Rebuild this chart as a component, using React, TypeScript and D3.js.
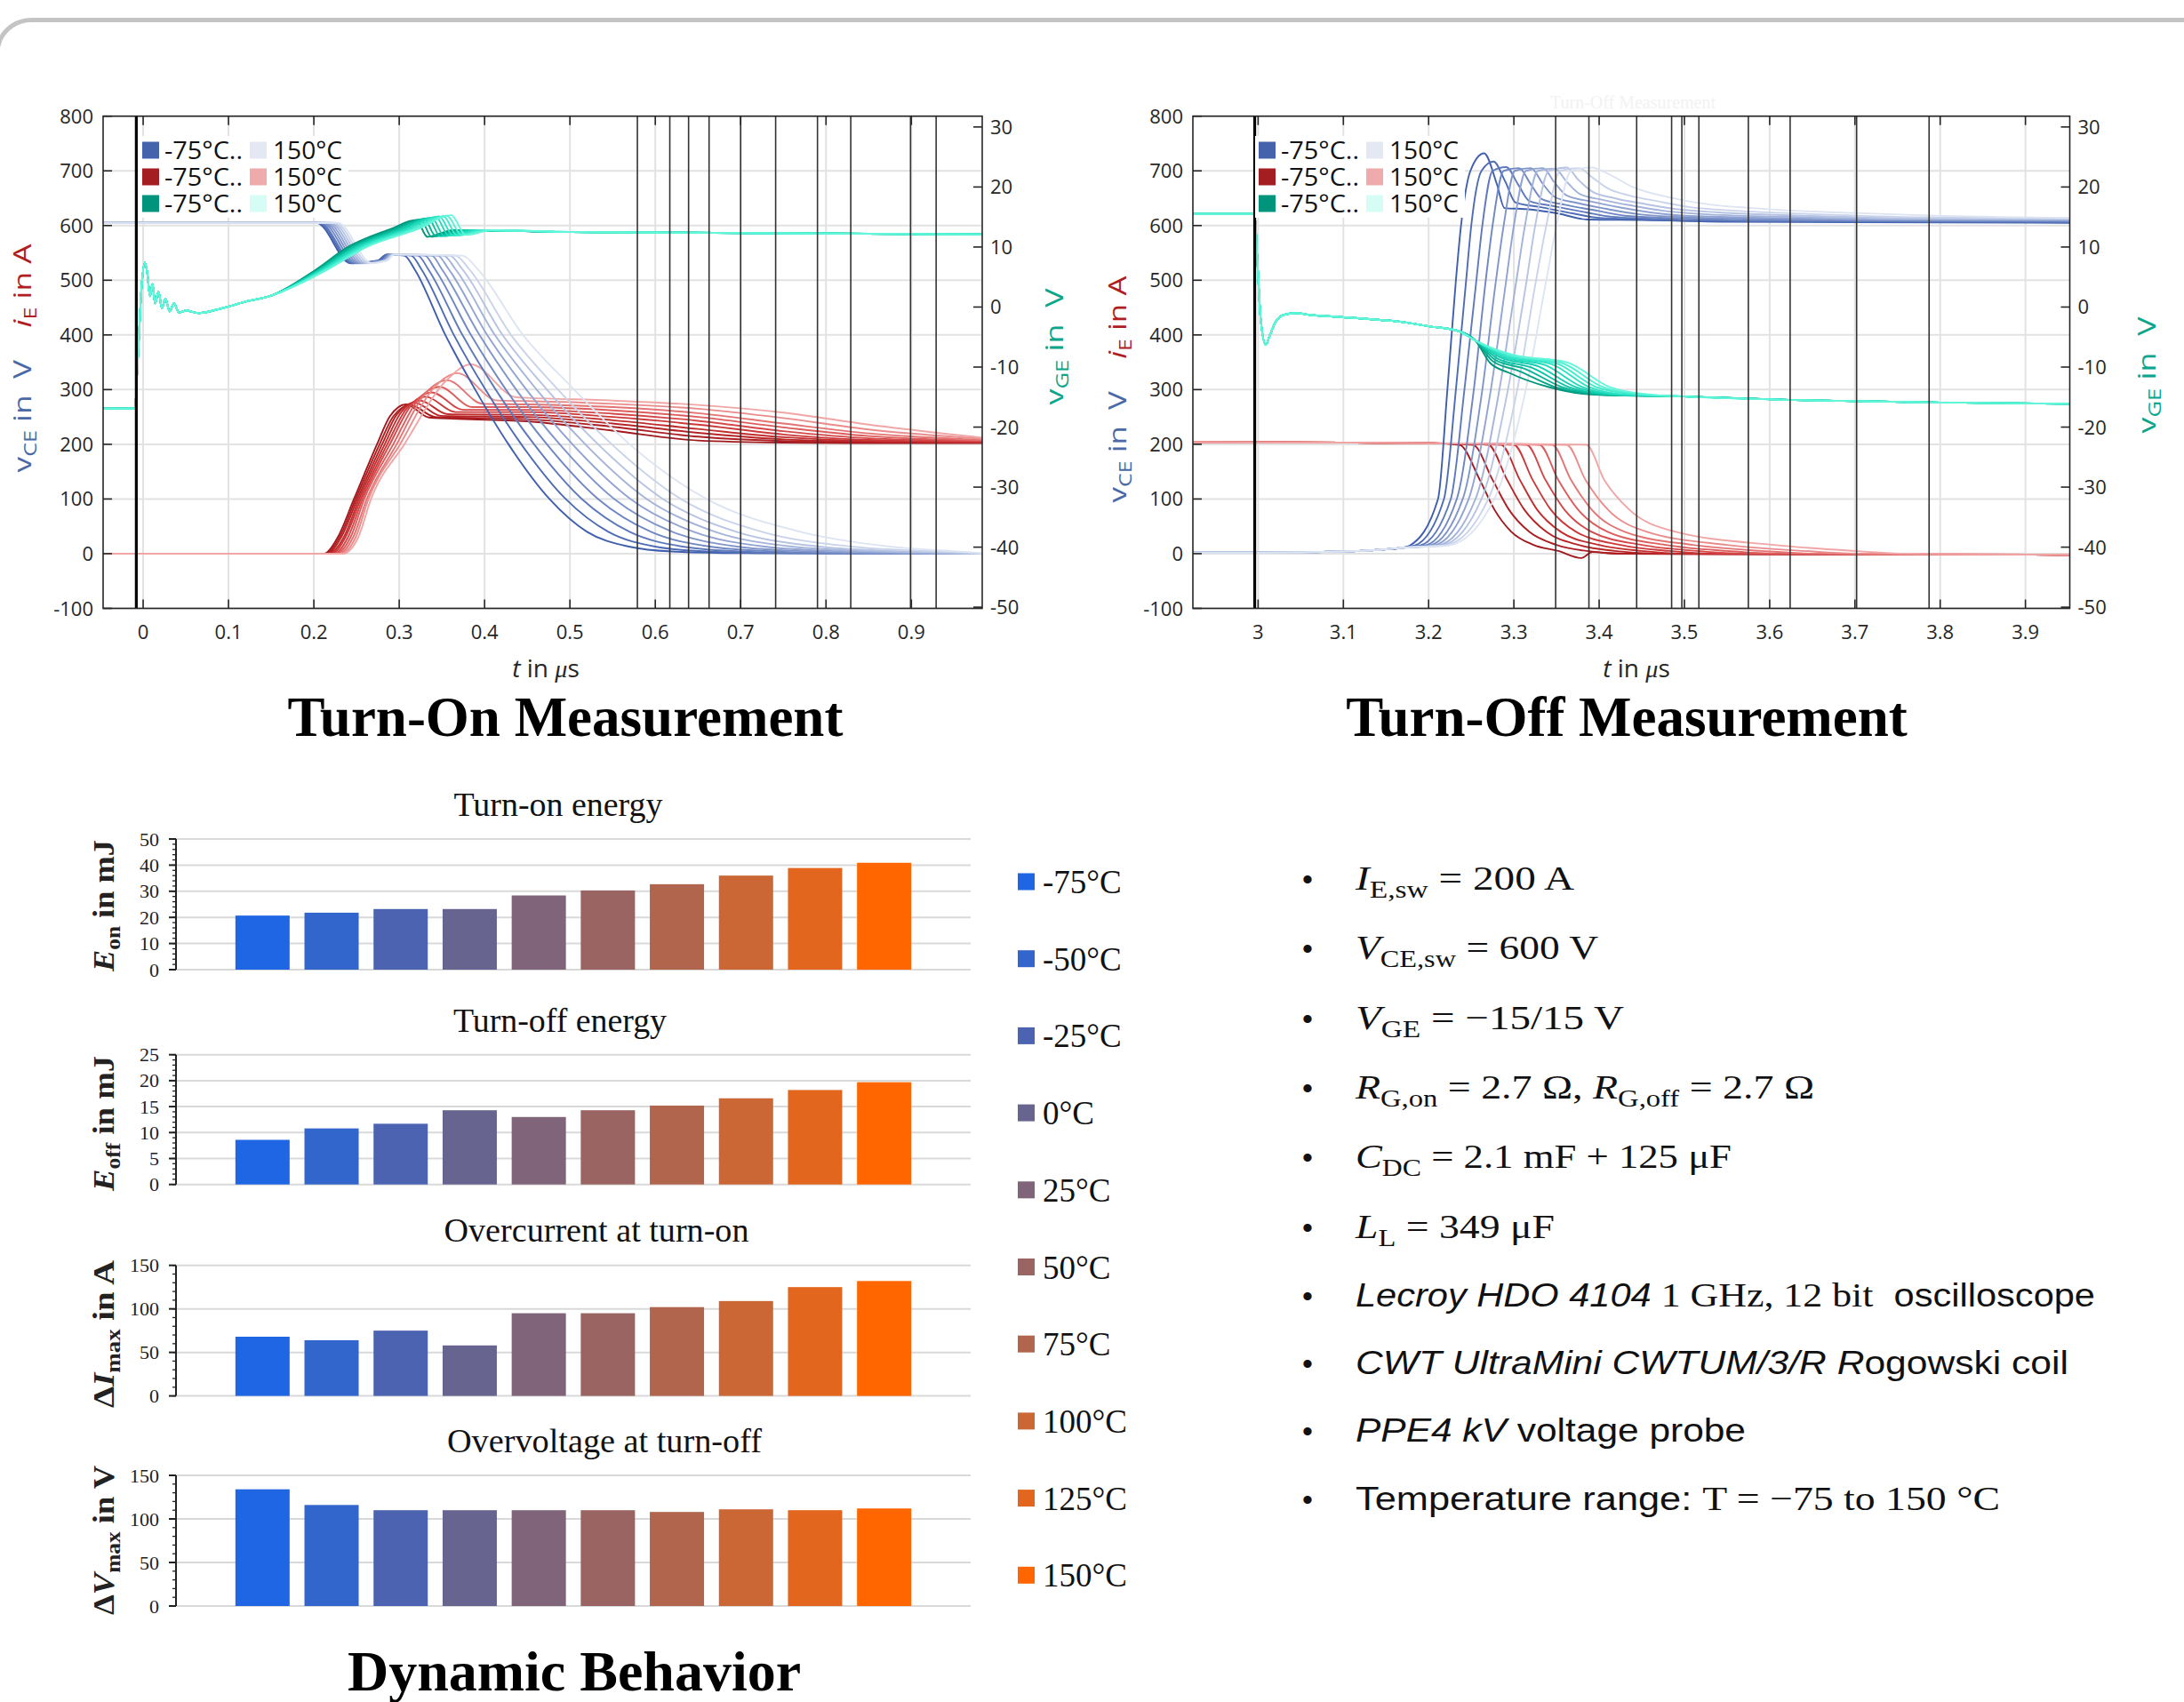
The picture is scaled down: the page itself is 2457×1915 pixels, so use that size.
import React from 'react';
import * as d3 from 'd3';

type Pt = [number, number];

// ---------------- DATA ----------------
const TEMPS = ['-75°C', '-50°C', '-25°C', '0°C', '25°C', '50°C', '75°C', '100°C', '125°C', '150°C'];
const E_ON = [20.7, 21.8, 23.2, 23.2, 28.4, 30.3, 32.7, 36.0, 38.9, 40.9];
const E_OFF = [8.6, 10.8, 11.7, 14.3, 13.0, 14.3, 15.2, 16.6, 18.2, 19.7];
const DI_MAX = [68, 64, 75, 58, 95, 95, 102, 109, 125, 132];
const DV_MAX = [134, 116, 110, 110, 110, 110, 108, 111, 110, 112];
const BAR_COLORS = ['#1f66e5', '#3366cc', '#4b63b0', '#676590', '#80657a', '#996461', '#b1654c', '#cb6735', '#e2661e', '#ff6600'];

// cursor lines of the oscilloscope pictures (µs)
const ON_TRIGGER = -0.008;
const ON_CURSORS = [0.579, 0.617, 0.639, 0.663, 0.700, 0.741, 0.790, 0.829, 0.899, 0.929];
const OFF_TRIGGER = 2.996;
const OFF_CURSORS = [3.349, 3.388, 3.444, 3.485, 3.497, 3.517, 3.575, 3.624, 3.702, 3.787];

// ---- Turn-on: v_CE (V) : levels and per-temperature crossing times ----
const VCE_ON_V = [605, 605, 531, 536, 547, 545, 520, 400, 300, 200, 100, 40, 13, 4, 1];
const VCE_ON_T = [
  [-0.047, 0.203, 0.243, 0.275, 0.285, 0.306, 0.318, 0.354, 0.389, 0.428, 0.476, 0.520, 0.569, 0.620, 0.700],
  [-0.047, 0.205, 0.245, 0.277, 0.286, 0.314, 0.326, 0.364, 0.401, 0.443, 0.495, 0.545, 0.600, 0.660, 0.740],
  [-0.047, 0.207, 0.247, 0.279, 0.287, 0.322, 0.334, 0.374, 0.413, 0.458, 0.514, 0.570, 0.632, 0.700, 0.780],
  [-0.047, 0.210, 0.250, 0.280, 0.288, 0.330, 0.342, 0.384, 0.425, 0.473, 0.533, 0.595, 0.664, 0.740, 0.820],
  [-0.047, 0.213, 0.253, 0.281, 0.289, 0.338, 0.350, 0.394, 0.437, 0.488, 0.552, 0.620, 0.696, 0.780, 0.860],
  [-0.047, 0.216, 0.256, 0.282, 0.290, 0.345, 0.358, 0.403, 0.449, 0.503, 0.571, 0.645, 0.728, 0.820, 0.900],
  [-0.047, 0.219, 0.259, 0.283, 0.291, 0.352, 0.366, 0.412, 0.461, 0.518, 0.590, 0.670, 0.760, 0.860, 0.930],
  [-0.047, 0.222, 0.262, 0.284, 0.292, 0.359, 0.374, 0.421, 0.473, 0.533, 0.609, 0.695, 0.792, 0.895, 0.955],
  [-0.047, 0.225, 0.265, 0.285, 0.293, 0.366, 0.382, 0.431, 0.486, 0.549, 0.630, 0.725, 0.830, 0.930, 0.975],
  [-0.047, 0.228, 0.268, 0.286, 0.294, 0.374, 0.392, 0.445, 0.505, 0.570, 0.660, 0.770, 0.875, 0.955, 0.983],
];

// ---- Turn-on: i_E (A) ----
const I_ON_START = [0.212, 0.214, 0.216, 0.218, 0.221, 0.224, 0.226, 0.229, 0.231, 0.234];
const I_ON_T30 = [0.228, 0.230, 0.232, 0.235, 0.237, 0.240, 0.243, 0.246, 0.249, 0.252];
const I_ON_T100 = [0.247, 0.249, 0.251, 0.253, 0.255, 0.257, 0.259, 0.262, 0.264, 0.267];
const I_ON_T200 = [0.274, 0.277, 0.280, 0.283, 0.286, 0.289, 0.293, 0.297, 0.301, 0.306];
const I_ON_NEAR_T = [0.289, 0.293, 0.297, 0.302, 0.308, 0.314, 0.322, 0.330, 0.341, 0.356];
const I_ON_NEAR_V = [251, 251, 254, 258, 264, 271, 281, 292, 304, 318];
const I_ON_PEAK_T = [0.308, 0.313, 0.318, 0.324, 0.331, 0.338, 0.347, 0.356, 0.368, 0.384];
const I_ON_PEAK = [273, 272, 276, 280, 287, 295, 305, 317, 330, 346];
const I_ON_DROP_T = [0.335, 0.342, 0.349, 0.357, 0.366, 0.375, 0.386, 0.398, 0.415, 0.437];
const I_ON_DROP_V = [249, 250, 252, 255, 259, 263, 268, 274, 280, 286];
const I_ON_TAIL_T = [0.45, 0.55, 0.65, 0.75, 0.85, 0.983];
const I_ON_TAIL = [
  [242, 225, 207, 203, 202, 202],
  [246, 232, 214, 206, 204, 203],
  [250, 238, 221, 209, 205, 204],
  [254, 244, 228, 213, 206, 204],
  [259, 250, 236, 218, 208, 205],
  [263, 256, 243, 224, 211, 206],
  [268, 262, 250, 231, 215, 207],
  [273, 268, 257, 238, 220, 208],
  [279, 274, 265, 248, 227, 210],
  [285, 280, 272, 258, 236, 212],
];

// ---- Turn-on: v_GE (V, right axis) ----
const VGE_ON_HEAD: Pt[] = [
  [-0.047, -16.9], [-0.010, -16.9], [-0.006, -8], [-0.002, 3], [0.002, 7.4], [0.005, 5.5], [0.008, 1.8],
  [0.011, 3.8], [0.014, 0.6], [0.018, 2.6], [0.022, -0.2], [0.026, 1.4], [0.031, -0.7], [0.036, 0.6],
  [0.042, -0.9], [0.050, -0.6], [0.065, -1.0], [0.090, -0.3], [0.120, 0.9], [0.150, 1.9],
];
const VGE_ON_T6 = [0.200, 0.201, 0.203, 0.204, 0.205, 0.207, 0.208, 0.210, 0.211, 0.213];
const VGE_ON_T10 = [0.240, 0.242, 0.245, 0.247, 0.250, 0.252, 0.255, 0.257, 0.260, 0.262];
const VGE_ON_T13 = [0.290, 0.294, 0.297, 0.301, 0.304, 0.308, 0.311, 0.315, 0.318, 0.322];
const VGE_ON_PEAK_T = [0.320, 0.325, 0.329, 0.334, 0.338, 0.343, 0.347, 0.352, 0.356, 0.361];
const VGE_ON_PEAK = [14.5, 14.6, 14.7, 14.8, 14.9, 15.0, 15.1, 15.1, 15.2, 15.3];
const VGE_ON_DIP_T = [0.333, 0.338, 0.343, 0.348, 0.353, 0.358, 0.363, 0.368, 0.373, 0.378];
const VGE_ON_DIP_V = [11.7, 11.7, 11.8, 11.8, 11.8, 11.9, 11.9, 11.9, 12.0, 12.0];
const VGE_ON_REC_T = [0.363, 0.368, 0.373, 0.378, 0.383, 0.388, 0.393, 0.398, 0.403, 0.408];
const VGE_ON_END: Pt[] = [[0.5, 12.5], [0.983, 12.1]];

// ---- Turn-off: v_CE (V) ----
const VCE_OFF_HEAD: Pt[] = [[2.9235, 2], [3.0, 2], [3.1, 4], [3.15, 8], [3.17, 11]];
const VCE_OFF_START = [3.178, 3.184, 3.190, 3.196, 3.201, 3.206, 3.211, 3.215, 3.219, 3.223];
const VCE_OFF_LEVELS = [100, 300, 500, 600, 700];
const VCE_OFF_RISE = [
  [3.211, 3.222, 3.232, 3.238, 3.249],
  [3.218, 3.232, 3.244, 3.250, 3.262],
  [3.226, 3.242, 3.256, 3.263, 3.275],
  [3.233, 3.253, 3.267, 3.275, 3.288],
  [3.240, 3.263, 3.279, 3.288, 3.301],
  [3.247, 3.273, 3.291, 3.300, 3.314],
  [3.255, 3.283, 3.303, 3.313, 3.328],
  [3.262, 3.293, 3.315, 3.325, 3.341],
  [3.270, 3.304, 3.326, 3.338, 3.354],
  [3.277, 3.314, 3.338, 3.350, 3.367],
];
const VCE_OFF_PEAK_T = [3.265, 3.276, 3.291, 3.306, 3.320, 3.334, 3.348, 3.362, 3.376, 3.391];
const VCE_OFF_PEAK = [732, 717, 707, 705, 705, 705, 704, 706, 705, 706];
const VCE_OFF_POST: Pt[][] = [
  [[3.280, 676], [3.289, 632], [3.314, 630], [3.352, 622], [3.386, 611], [3.45, 610], [3.55, 607], [3.70, 606], [3.952, 605]],
  [[3.290, 680], [3.302, 642], [3.330, 634], [3.370, 622], [3.400, 614], [3.46, 611], [3.56, 608], [3.70, 607], [3.952, 606]],
  [[3.305, 675], [3.318, 645], [3.345, 636], [3.385, 624], [3.415, 616], [3.47, 612], [3.57, 609], [3.72, 608], [3.952, 607]],
  [[3.320, 675], [3.333, 648], [3.360, 638], [3.398, 627], [3.430, 618], [3.48, 614], [3.58, 610], [3.72, 609], [3.952, 608]],
  [[3.334, 676], [3.348, 652], [3.375, 641], [3.410, 630], [3.445, 621], [3.49, 616], [3.59, 612], [3.73, 610], [3.952, 609]],
  [[3.348, 678], [3.362, 655], [3.390, 644], [3.425, 633], [3.460, 624], [3.50, 618], [3.60, 614], [3.74, 611], [3.952, 610]],
  [[3.362, 680], [3.377, 658], [3.404, 647], [3.440, 636], [3.475, 627], [3.52, 621], [3.62, 616], [3.75, 612], [3.952, 611]],
  [[3.376, 683], [3.392, 662], [3.418, 650], [3.455, 639], [3.490, 630], [3.54, 624], [3.64, 618], [3.77, 613], [3.952, 612]],
  [[3.392, 688], [3.410, 668], [3.435, 655], [3.470, 644], [3.505, 634], [3.56, 627], [3.65, 621], [3.78, 615], [3.952, 613]],
  [[3.410, 695], [3.440, 670], [3.484, 651], [3.532, 638], [3.580, 632], [3.63, 627], [3.70, 623], [3.775, 619], [3.952, 614]],
];

// ---- Turn-off: i_E (A) ----
const I_OFF_HEAD: Pt[] = [[2.9235, 204], [3.1, 203], [3.2, 202]];
const I_OFF_LEVELS = [199, 135, 81, 40, 16, 5];
const I_OFF_FALL = [
  [3.236, 3.260, 3.277, 3.297, 3.323, 3.352],
  [3.252, 3.275, 3.294, 3.318, 3.350, 3.385],
  [3.270, 3.292, 3.312, 3.338, 3.376, 3.418],
  [3.285, 3.307, 3.327, 3.355, 3.400, 3.450],
  [3.300, 3.322, 3.343, 3.373, 3.425, 3.482],
  [3.315, 3.337, 3.359, 3.391, 3.450, 3.515],
  [3.330, 3.352, 3.375, 3.410, 3.478, 3.550],
  [3.345, 3.367, 3.391, 3.430, 3.510, 3.590],
  [3.362, 3.384, 3.410, 3.456, 3.550, 3.640],
  [3.385, 3.406, 3.435, 3.490, 3.605, 3.700],
];
const I_OFF_TAIL: Pt[][] = [
  [[3.379, -8], [3.392, 3], [3.42, 0], [3.952, -2]],
  [[3.43, 0], [3.952, -2]],
  [[3.47, 0], [3.952, -2]],
  [[3.50, 0], [3.952, -2]],
  [[3.535, 0], [3.952, -2]],
  [[3.57, 0], [3.952, -2]],
  [[3.61, 0], [3.952, -2]],
  [[3.65, 0], [3.952, -2]],
  [[3.70, 0], [3.952, -2]],
  [[3.76, 0], [3.952, -2]],
];

// ---- Turn-off: v_GE (V, right axis) ----
const VGE_OFF_HEAD: Pt[] = [
  [2.9235, 15.5], [2.996, 15.5], [2.999, 8], [3.003, -2], [3.009, -6.3], [3.013, -5.0], [3.020, -2.6],
  [3.030, -1.3], [3.045, -1.0], [3.060, -1.3], [3.090, -1.6], [3.130, -2.0], [3.170, -2.5], [3.200, -3.2],
  [3.235, -4.0], [3.255, -5.6],
];
const VGE_OFF_MID: Pt[][] = [
  [[3.272, -9.3], [3.295, -11.0], [3.340, -13.3], [3.395, -14.6]],
  [[3.275, -9.0], [3.305, -10.6], [3.348, -13.3], [3.400, -14.6]],
  [[3.278, -8.8], [3.313, -10.3], [3.356, -13.3], [3.406, -14.6]],
  [[3.281, -8.6], [3.321, -10.1], [3.364, -13.3], [3.412, -14.6]],
  [[3.284, -8.4], [3.329, -9.9], [3.372, -13.3], [3.418, -14.6]],
  [[3.287, -8.3], [3.337, -9.7], [3.380, -13.3], [3.424, -14.6]],
  [[3.290, -8.2], [3.344, -9.5], [3.388, -13.3], [3.432, -14.6]],
  [[3.293, -8.1], [3.350, -9.4], [3.396, -13.3], [3.440, -14.5]],
  [[3.296, -8.0], [3.356, -9.3], [3.404, -13.3], [3.448, -14.5]],
  [[3.300, -8.0], [3.362, -9.2], [3.412, -13.3], [3.455, -14.5]],
];
const VGE_OFF_TAIL: Pt[] = [[3.5, -14.9], [3.63, -15.5], [3.8, -15.9], [3.952, -16.1]];

// ---- bullet list ----
type Seg = { t: string; f: 'serif' | 'sans'; i?: boolean; sub?: boolean };
const BULLETS: { len: number; segs: Seg[] }[] = [
  { len: 246, segs: [{ t: 'I', f: 'serif', i: true }, { t: 'E,sw', f: 'serif', sub: true }, { t: ' = 200 A', f: 'serif' }] },
  { len: 273, segs: [{ t: 'V', f: 'serif', i: true }, { t: 'CE,sw', f: 'serif', sub: true }, { t: ' = 600 V', f: 'serif' }] },
  { len: 302, segs: [{ t: 'V', f: 'serif', i: true }, { t: 'GE', f: 'serif', sub: true }, { t: ' = −15/15 V', f: 'serif' }] },
  { len: 516, segs: [{ t: 'R', f: 'serif', i: true }, { t: 'G,on', f: 'serif', sub: true }, { t: ' = 2.7 Ω, ', f: 'serif' }, { t: 'R', f: 'serif', i: true }, { t: 'G,off', f: 'serif', sub: true }, { t: ' = 2.7 Ω', f: 'serif' }] },
  { len: 423, segs: [{ t: 'C', f: 'serif', i: true }, { t: 'DC', f: 'serif', sub: true }, { t: ' = 2.1 mF + 125 μF', f: 'serif' }] },
  { len: 224, segs: [{ t: 'L', f: 'serif', i: true }, { t: 'L', f: 'serif', sub: true }, { t: ' = 349 μF', f: 'serif' }] },
  { len: 832, segs: [{ t: 'Lecroy HDO 4104', f: 'sans', i: true }, { t: ' 1 GHz, 12 bit', f: 'serif' }, { t: '  oscilloscope', f: 'sans' }] },
  { len: 802, segs: [{ t: 'CWT UltraMini CWTUM/3/R R', f: 'sans', i: true }, { t: 'ogowski coil', f: 'sans' }] },
  { len: 439, segs: [{ t: 'PPE4 kV', f: 'sans', i: true }, { t: ' voltage probe', f: 'sans' }] },
  { len: 725, segs: [{ t: 'Temperature range: ', f: 'sans' }, { t: 'T = −75 to 150 °C', f: 'serif' }] },
];

// ---------------- STYLE ----------------
const SERIF = "'Liberation Serif', 'Times New Roman', serif";
const SANS = "'Liberation Sans', Arial, Helvetica, sans-serif";
const OPEN = "'Open Sans', 'Liberation Sans', sans-serif";
const AX = '#262626';
const GRID = '#e2e2e2';
const BLUE_LBL = '#4a6aa6';
const RED_LBL = '#b01e22';
const TEAL_LBL = '#0aa58a';
const blueC = d3.interpolateRgbBasis(['#3f5fae', '#8499cd', '#dde4f2']);
const redC = d3.interpolateRgbBasis(['#a0181c', '#d43030', '#f1a6a6']);
const tealC = d3.interpolateRgbBasis(['#00957a', '#0cdcbb', '#62f6da']);

const PLOT_TOP = 130.7;
const PLOT_BOT = 684.5;
const yL = d3.scaleLinear().domain([-100, 800]).range([PLOT_BOT, PLOT_TOP]);
const yR = d3.scaleLinear().domain([-50.2, 31.8]).range([PLOT_BOT, PLOT_TOP]);
const xOn = d3.scaleLinear().domain([-0.0469, 0.983]).range([116, 1105]);
const xOff = d3.scaleLinear().domain([2.9235, 3.952]).range([1342, 2328.5]);

// ---------------- CURVE ASSEMBLY ----------------
const idx = d3.range(TEMPS.length);
const vceOn: Pt[][] = idx.map((i) => {
  const pts: Pt[] = VCE_ON_T[i].map((t, k) => [t, VCE_ON_V[k]] as Pt);
  if (pts[pts.length - 1][0] < 0.983) pts.push([0.983, 0]);
  return pts;
});
const iOn: Pt[][] = idx.map((i) => [
  [-0.047, 0], [I_ON_START[i], 0], [I_ON_T30[i], 30], [I_ON_T100[i], 100], [I_ON_T200[i], 200],
  [I_ON_NEAR_T[i], I_ON_NEAR_V[i]], [I_ON_PEAK_T[i], I_ON_PEAK[i]], [I_ON_DROP_T[i], I_ON_DROP_V[i]],
  ...I_ON_TAIL_T.map((t, k) => [t, I_ON_TAIL[i][k]] as Pt),
] as Pt[]);
const vgeOn: Pt[][] = idx.map((i) => [
  ...VGE_ON_HEAD,
  [VGE_ON_T6[i], 6], [VGE_ON_T10[i], 10], [VGE_ON_T13[i], 13], [VGE_ON_PEAK_T[i], VGE_ON_PEAK[i]],
  [VGE_ON_DIP_T[i], VGE_ON_DIP_V[i]], [VGE_ON_REC_T[i], 12.8], ...VGE_ON_END,
] as Pt[]);
const vceOff: Pt[][] = idx.map((i) => [
  ...VCE_OFF_HEAD, [VCE_OFF_START[i], 15],
  ...VCE_OFF_RISE[i].map((t, k) => [t, VCE_OFF_LEVELS[k]] as Pt),
  [VCE_OFF_PEAK_T[i], VCE_OFF_PEAK[i]], ...VCE_OFF_POST[i],
] as Pt[]);
const iOff: Pt[][] = idx.map((i) => [
  ...I_OFF_HEAD, ...I_OFF_FALL[i].map((t, k) => [t, I_OFF_LEVELS[k]] as Pt), ...I_OFF_TAIL[i],
] as Pt[]);
const vgeOff: Pt[][] = idx.map((i) => [...VGE_OFF_HEAD, ...VGE_OFF_MID[i], ...VGE_OFF_TAIL] as Pt[]);

// ---------------- COMPONENTS ----------------
type Fam = { curves: Pt[][]; color: (t: number) => string; right?: boolean };

function Scope(props: {
  x: d3.ScaleLinear<number, number>; clipId: string; fams: Fam[]; trigger: number; cursors: number[];
  legX: number; lblL: [number, number, number]; lblR: [number, number, number]; xLabelX: number;
}) {
  const { x, clipId, fams, trigger, cursors, legX, lblL, lblR, xLabelX } = props;
  const [X0, X1] = x.range();
  const xt = x.ticks(10);
  const ylt = yL.ticks(10);
  const yrt = yR.ticks(8);
  const n = TEMPS.length;
  const legRows = [
    ['#4563ad', '#e3e8f3'],
    ['#a31d21', '#efabab'],
    ['#00947c', '#d5fdf6'],
  ];
  return (
    <g>
      <defs>
        <clipPath id={clipId}>
          <rect x={X0} y={PLOT_TOP} width={X1 - X0} height={PLOT_BOT - PLOT_TOP} />
        </clipPath>
      </defs>
      {xt.map((t) => (
        <line key={'gx' + t} x1={x(t)} x2={x(t)} y1={PLOT_TOP} y2={PLOT_BOT} stroke={GRID} strokeWidth={2} />
      ))}
      {ylt.map((v) => (
        <line key={'gy' + v} x1={X0} x2={X1} y1={yL(v)} y2={yL(v)} stroke={GRID} strokeWidth={2} />
      ))}
      <g clipPath={`url(#${clipId})`}>
        {fams.map((f, fi) => {
          const ys = f.right ? yR : yL;
          const gen = d3.line<Pt>().x((d) => x(d[0])).y((d) => ys(d[1])).curve(d3.curveMonotoneX);
          return (
            <g key={'f' + fi}>
              {f.curves.map((c, i) => (
                <path key={i} d={gen(c) || ''} fill="none" stroke={f.color(i / (n - 1))} strokeWidth={1.9} />
              ))}
            </g>
          );
        })}
        <line x1={x(trigger)} x2={x(trigger)} y1={PLOT_TOP} y2={PLOT_BOT} stroke="#000" strokeWidth={3.2} />
        {cursors.map((c) => (
          <line key={'c' + c} x1={x(c)} x2={x(c)} y1={PLOT_TOP} y2={PLOT_BOT} stroke="#333" strokeWidth={1.6} />
        ))}
      </g>
      {/* legend */}
      <rect x={legX - 4} y={153} width={236} height={92} fill="#fff" />
      {legRows.map((r, k) => {
        const cy = 169 + 30 * k;
        return (
          <g key={'lg' + k} fontFamily={OPEN} fontSize={27} fill="#111">
            <rect x={legX} y={cy - 9.5} width={19} height={19} fill={r[0]} />
            <text x={legX + 25} y={cy + 10} textLength={88} lengthAdjust="spacingAndGlyphs">-75°C..</text>
            <rect x={legX + 121} y={cy - 9.5} width={19} height={19} fill={r[1]} />
            <text x={legX + 147} y={cy + 10} textLength={78} lengthAdjust="spacingAndGlyphs">150°C</text>
          </g>
        );
      })}
      {/* box */}
      <rect x={X0} y={PLOT_TOP} width={X1 - X0} height={PLOT_BOT - PLOT_TOP} fill="none" stroke={AX} strokeWidth={1.6} />
      {xt.map((t) => (
        <g key={'tx' + t}>
          <line x1={x(t)} x2={x(t)} y1={PLOT_BOT} y2={PLOT_BOT - 10} stroke={AX} strokeWidth={1.6} />
          <line x1={x(t)} x2={x(t)} y1={PLOT_TOP} y2={PLOT_TOP + 10} stroke={AX} strokeWidth={1.6} />
          <text x={x(t)} y={718.5} textAnchor="middle" fontFamily={OPEN} fontSize={22} fill={AX}>
            {d3.format('~g')(t)}
          </text>
        </g>
      ))}
      {ylt.map((v) => (
        <g key={'ty' + v}>
          <line x1={X0} x2={X0 + 10} y1={yL(v)} y2={yL(v)} stroke={AX} strokeWidth={1.6} />
          <text x={X0 - 11} y={yL(v) + 8} textAnchor="end" fontFamily={OPEN} fontSize={22} fill={AX}>
            {v}
          </text>
        </g>
      ))}
      {yrt.map((v) => (
        <g key={'tr' + v}>
          <line x1={X1} x2={X1 - 10} y1={yR(v)} y2={yR(v)} stroke={AX} strokeWidth={1.6} />
          <text x={X1 + 9} y={yR(v) + 8} textAnchor="start" fontFamily={OPEN} fontSize={22} fill={AX}>
            {v}
          </text>
        </g>
      ))}
      {/* axis labels */}
      <text
        transform={`translate(${lblL[0]},${lblL[1]}) rotate(-90)`}
        textAnchor="middle" fontFamily={OPEN} fontSize={28} style={{ whiteSpace: 'pre' }}
        textLength={lblL[2]} lengthAdjust="spacingAndGlyphs"
      >
        <tspan fill={BLUE_LBL}>v</tspan>
        <tspan fill={BLUE_LBL} fontSize={20} dy={6}>CE</tspan>
        <tspan fill={BLUE_LBL} dy={-6}> in  V    </tspan>
        <tspan fill={RED_LBL} fontStyle="italic">i</tspan>
        <tspan fill={RED_LBL} fontSize={20} dy={6}>E</tspan>
        <tspan fill={RED_LBL} dy={-6}> in A</tspan>
      </text>
      <text
        transform={`translate(${lblR[0]},${lblR[1]}) rotate(-90)`}
        textAnchor="middle" fontFamily={OPEN} fontSize={28} style={{ whiteSpace: 'pre' }} fill={TEAL_LBL}
        textLength={lblR[2]} lengthAdjust="spacingAndGlyphs"
      >
        <tspan>v</tspan>
        <tspan fontSize={20} dy={6}>GE</tspan>
        <tspan dy={-6}> in  V</tspan>
      </text>
      <text x={xLabelX} y={762} textAnchor="middle" fontFamily={OPEN} fontSize={28} fill={AX} style={{ whiteSpace: 'pre' }}>
        <tspan fontStyle="italic">t</tspan>
        <tspan> in </tspan>
        <tspan fontStyle="italic" fontFamily={SERIF}>μ</tspan>
        <tspan>s</tspan>
      </text>
    </g>
  );
}

const xBand = d3.scaleBand<string>().domain(TEMPS).range([198, 1092]).paddingInner(0.215).paddingOuter(0.86);

function BarPanel(props: {
  title: string; tx: number; ty: number; tlen: number; data: number[]; max: number; top: number; bottom: number;
  major: number; minor: number; label: React.ReactNode; lblY: number; lblLen: number;
}) {
  const { title, tx, ty, tlen, data, max, top, bottom, major, minor, label, lblY, lblLen } = props;
  const y = d3.scaleLinear().domain([0, max]).range([bottom, top]);
  const [R0, R1] = xBand.range();
  return (
    <g>
      <text x={tx} y={ty} textAnchor="middle" fontFamily={SERIF} fontSize={38} fill="#111" textLength={tlen} lengthAdjust="spacingAndGlyphs">
        {title}
      </text>
      {y.ticks(major).map((v) => (
        <line key={'g' + v} x1={R0} x2={R1} y1={y(v)} y2={y(v)} stroke="#d9d9d9" strokeWidth={2} />
      ))}
      {data.map((v, i) => (
        <rect key={TEMPS[i]} x={xBand(TEMPS[i])} y={y(v)} width={xBand.bandwidth()} height={bottom - y(v)} fill={BAR_COLORS[i]} />
      ))}
      <line x1={R0} x2={R0} y1={top} y2={bottom} stroke="#222" strokeWidth={2} />
      {y.ticks(minor).map((v) => (
        <line key={'m' + v} x1={R0 - 4} x2={R0} y1={y(v)} y2={y(v)} stroke="#222" strokeWidth={1.3} />
      ))}
      {y.ticks(major).map((v) => (
        <g key={'t' + v}>
          <line x1={R0 - 8} x2={R0} y1={y(v)} y2={y(v)} stroke="#222" strokeWidth={2} />
          <text x={R0 - 19} y={y(v) + 7.5} textAnchor="end" fontFamily={SERIF} fontSize={22} fill="#222">
            {v}
          </text>
        </g>
      ))}
      <text
        transform={`translate(128,${lblY}) rotate(-90)`}
        textAnchor="middle" fontFamily={SERIF} fontWeight="bold" fontSize={33} fill="#222"
        style={{ whiteSpace: 'pre' }} textLength={lblLen} lengthAdjust="spacingAndGlyphs"
      >
        {label}
      </text>
    </g>
  );
}

function Bullets() {
  const baselines = [1001, 1079, 1158, 1236, 1314, 1393, 1470, 1546, 1622, 1699];
  return (
    <g>
      {BULLETS.map((b, r) => (
        <g key={'b' + r}>
          <text x={1471} y={baselines[r]} textAnchor="middle" fontFamily={SANS} fontSize={34} fill="#111">•</text>
          <text x={1525} y={baselines[r]} fill="#111" style={{ whiteSpace: 'pre' }} textLength={b.len} lengthAdjust="spacingAndGlyphs">
            {b.segs.map((s, j) => {
              const prevSub = j > 0 && !!b.segs[j - 1].sub;
              const dy = s.sub && !prevSub ? 9 : !s.sub && prevSub ? -9 : 0;
              return (
                <tspan
                  key={j}
                  dy={dy || undefined}
                  fontFamily={s.f === 'serif' ? SERIF : SANS}
                  fontStyle={s.i ? 'italic' : 'normal'}
                  fontSize={s.sub ? 27 : s.f === 'serif' ? 38 : 36}
                >
                  {s.t}
                </tspan>
              );
            })}
          </text>
        </g>
      ))}
    </g>
  );
}

export default function App() {
  const onFams: Fam[] = [
    { curves: iOn, color: redC },
    { curves: vceOn, color: blueC },
    { curves: vgeOn, color: tealC, right: true },
  ];
  const offFams: Fam[] = [
    { curves: iOff, color: redC },
    { curves: vceOff, color: blueC },
    { curves: vgeOff, color: tealC, right: true },
  ];
  const sub = (s: string) => <tspan fontSize={23} dy={7}>{s}</tspan>;
  return (
    <svg
      width={2457}
      height={1915}
      viewBox="0 0 2457 1915"
      style={{ position: 'absolute', left: 0, top: 0, display: 'block', background: '#fff' }}
    >
      <rect x={0} y={0} width={2457} height={1915} fill="#fff" />
      <path d="M -5 61 L 0 45 A 38.5 38.5 0 0 1 35 22.5 L 2460 22.5" fill="none" stroke="#c4c4c4" strokeWidth={5} />
      <text x={1837} y={122} textAnchor="middle" fontFamily={SERIF} fontSize={20} fill="#f2f2f2">Turn-Off Measurement</text>

      <Scope
        x={xOn} clipId="clipOn" fams={onFams} trigger={ON_TRIGGER} cursors={ON_CURSORS}
        legX={160} lblL={[35, 403, 257]} lblR={[1196, 390, 131]} xLabelX={614}
      />
      <Scope
        x={xOff} clipId="clipOff" fams={offFams} trigger={OFF_TRIGGER} cursors={OFF_CURSORS}
        legX={1416} lblL={[1267, 438, 255]} lblR={[2425, 422, 131]} xLabelX={1841}
      />
      <text x={636} y={828} textAnchor="middle" fontFamily={SERIF} fontWeight="bold" fontSize={63} fill="#000">Turn-On Measurement</text>
      <text x={1830} y={828} textAnchor="middle" fontFamily={SERIF} fontWeight="bold" fontSize={63} fill="#000">Turn-Off Measurement</text>

      <BarPanel
        title="Turn-on energy" tx={628} ty={918} tlen={235} data={E_ON} max={50} top={944} bottom={1091}
        major={5} minor={25} lblY={1019} lblLen={148}
        label={<><tspan fontStyle="italic">E</tspan>{sub('on')}<tspan dy={-7}> in mJ</tspan></>}
      />
      <BarPanel
        title="Turn-off energy" tx={630} ty={1161} tlen={240} data={E_OFF} max={25} top={1186.7} bottom={1332.7}
        major={5} minor={25} lblY={1264} lblLen={152}
        label={<><tspan fontStyle="italic">E</tspan>{sub('off')}<tspan dy={-7}> in mJ</tspan></>}
      />
      <BarPanel
        title="Overcurrent at turn-on" tx={671} ty={1397} tlen={343} data={DI_MAX} max={150} top={1423.7} bottom={1570.6}
        major={3} minor={15} lblY={1501} lblLen={166}
        label={<><tspan>Δ</tspan><tspan fontStyle="italic">I</tspan>{sub('max')}<tspan dy={-7}> in A</tspan></>}
      />
      <BarPanel
        title="Overvoltage at turn-off" tx={680} ty={1634} tlen={354} data={DV_MAX} max={150} top={1660} bottom={1807}
        major={3} minor={15} lblY={1733} lblLen={168}
        label={<><tspan>Δ</tspan><tspan fontStyle="italic">V</tspan>{sub('max')}<tspan dy={-7}> in V</tspan></>}
      />
      {TEMPS.map((t, i) => {
        const cy = 992 + 86.7 * i;
        return (
          <g key={'bl' + t}>
            <rect x={1145} y={cy - 9.5} width={19} height={19} fill={BAR_COLORS[i]} />
            <text x={1173} y={cy + 13} fontFamily={SERIF} fontSize={37} fill="#111">{t}</text>
          </g>
        );
      })}
      <text x={646} y={1902} textAnchor="middle" fontFamily={SERIF} fontWeight="bold" fontSize={64} fill="#000">Dynamic Behavior</text>

      <Bullets />
    </svg>
  );
}
